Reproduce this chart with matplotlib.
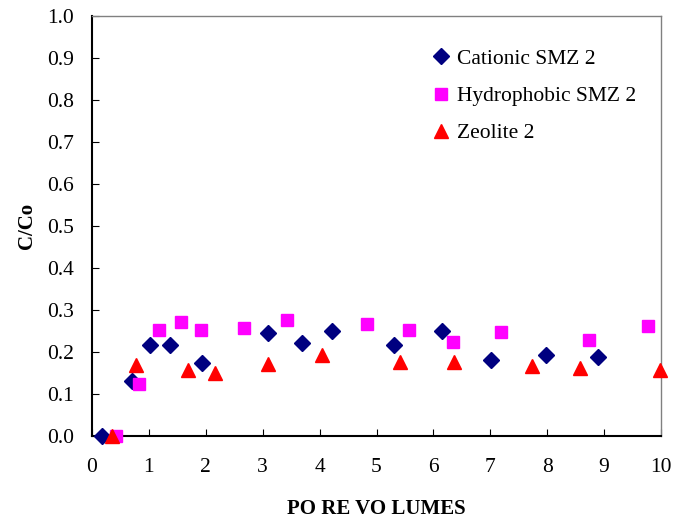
import numpy as np
import matplotlib.pyplot as plt

plt.rcParams['font.family'] = ['Liberation Serif', 'DejaVu Serif']

# Cationic SMZ 2
cat_x = [0.17, 0.70, 1.02, 1.37, 1.93, 3.09, 3.69, 4.21, 5.30, 6.15, 7.02, 7.98, 8.89]
cat_y = [0.0, 0.13, 0.216, 0.216, 0.174, 0.245, 0.222, 0.25, 0.216, 0.25, 0.182, 0.192, 0.188]

# Hydrophobic SMZ 2
hyd_x = [0.43, 0.83, 1.17, 1.56, 1.91, 2.68, 3.42, 4.83, 5.57, 6.34, 7.18, 8.73, 9.78]
hyd_y = [0.0, 0.124, 0.252, 0.271, 0.252, 0.258, 0.276, 0.267, 0.252, 0.223, 0.248, 0.228, 0.261]

# Zeolite 2
zeo_x = [0.35, 0.78, 1.68, 2.17, 3.09, 4.04, 5.41, 6.36, 7.73, 8.58, 9.98]
zeo_y = [0.0, 0.168, 0.158, 0.149, 0.172, 0.194, 0.176, 0.176, 0.166, 0.161, 0.156]

fig = plt.figure(figsize=(6.74, 5.22), dpi=100)
ax = fig.add_axes([92/674, 1 - 436/522, (661-92)/674, (436-16)/522])

ax.plot(cat_x, cat_y, linestyle='none', marker='D', color='#000080', markersize=8,
        label='Cationic SMZ 2', clip_on=False, zorder=3)
ax.plot(hyd_x, hyd_y, linestyle='none', marker='s', color='#ff00ff', markersize=8.5,
        label='Hydrophobic SMZ 2', clip_on=False, zorder=3)
ax.plot(zeo_x, zeo_y, linestyle='none', marker='^', color='#ff0000', markersize=10,
        label='Zeolite 2', clip_on=False, zorder=3)

ax.set_xlim(0, 10)
ax.set_ylim(0, 1.0)
ax.set_xticks(np.arange(0, 11, 1))
ax.set_yticks(np.arange(0, 1.01, 0.1))
ax.set_yticklabels(['%.1f' % v for v in np.arange(0, 1.01, 0.1)])
ax.tick_params(direction='in', length=5, labelsize=15.5)
ax.tick_params(axis='y', pad=13)
ax.tick_params(axis='x', pad=16)

for s in ['left', 'bottom']:
    ax.spines[s].set_linewidth(1.5)
for s in ['top', 'right']:
    ax.spines[s].set_color('#808080')
    ax.spines[s].set_linewidth(1.0)

ax.set_xlabel('PO RE VO LUMES', fontsize=15, fontweight='bold', labelpad=16)
ax.set_ylabel('C/Co', fontsize=15, fontweight='bold', labelpad=7)

ax.legend(loc='upper left', bbox_to_anchor=(0.553, 0.968), frameon=False, fontsize=15.5,
          handletextpad=0.05, labelspacing=0.8, handlelength=1.4)

fig.savefig('out.png', dpi=100)
